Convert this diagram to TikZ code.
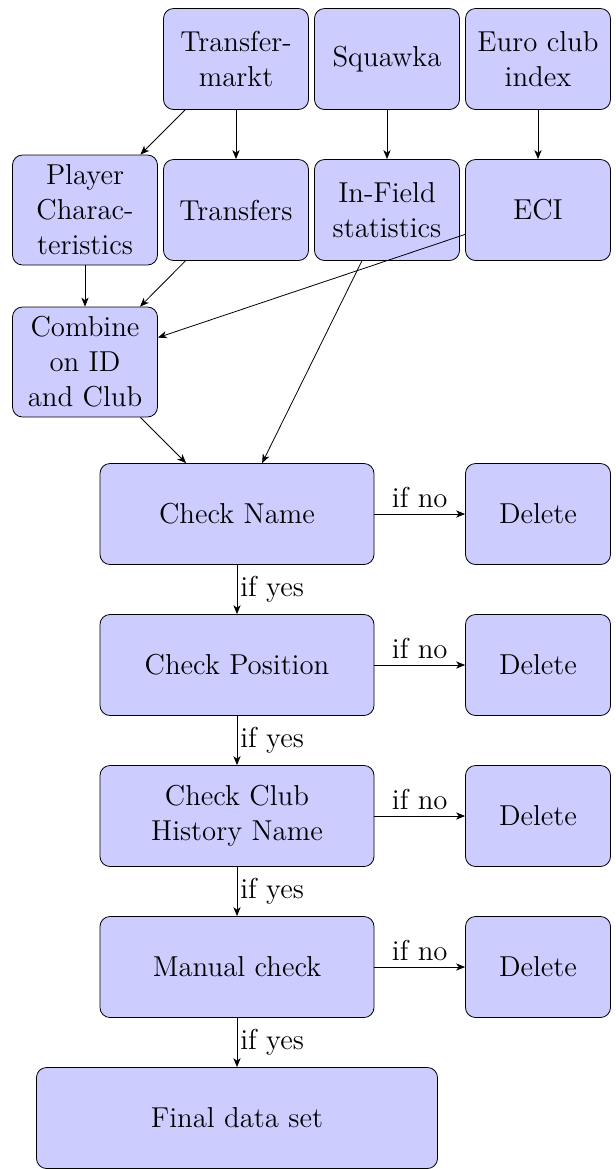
\documentclass[tikz,border=0pt]{standalone}
\usetikzlibrary{arrows.meta}
\begin{document}
\begin{tikzpicture}[x=0.5pt,y=-0.5pt,
  box/.style={draw, fill=blue!20, rounded corners=5pt, align=center,
    minimum width=72.5pt, minimum height=50.5pt, inner sep=2pt,
    font=\fontsize{14.4}{17.5}\selectfont},
  tall/.style={minimum height=55pt},
  wide/.style={minimum width=137pt},
  widest/.style={minimum width=200.5pt},
  arr/.style={-{Stealth[length=4.5pt,width=3.6pt,inset=1.3pt]}},
  lbl/.style={font=\fontsize{14.4}{17.5}\selectfont, inner sep=1.5pt},
  nolbl/.style={lbl, above, inner sep=3pt}]
\useasboundingbox (0,0) rectangle (616,1169);
% top row
\node[box] (tm) at (236,59) {Transfer-\\markt};
\node[box] (sq) at (387,59) {Squawka};
\node[box] (eu) at (538,59) {Euro club\\index};
% second row
\node[box,tall] (pc) at (85,210) {Player\\Charac-\\teristics};
\node[box] (tr) at (236,210) {Transfers};
\node[box] (inf) at (387,210) {In-Field\\statistics};
\node[box] (eci) at (538,210) {ECI};
% combine
\node[box,tall] (cb) at (85,362) {Combine\\on ID\\and Club};
% checks
\node[box,wide] (cn) at (237,514) {Check Name};
\node[box,wide] (cp) at (237,665) {Check Position};
\node[box,wide] (cc) at (237,816) {Check Club\\History Name};
\node[box,wide] (mc) at (237,967) {Manual check};
\node[box,widest] (fd) at (237,1118) {Final data set};
% deletes
\node[box] (d1) at (538,514) {Delete};
\node[box] (d2) at (538,665) {Delete};
\node[box] (d3) at (538,816) {Delete};
\node[box] (d4) at (538,967) {Delete};
% connectors
\draw[arr] (tm) -- (pc);
\draw[arr] (tm) -- (tr);
\draw[arr] (sq) -- (inf);
\draw[arr] (eu) -- (eci);
\draw[arr] (pc) -- (cb);
\draw[arr] (tr) -- (cb);
\draw[arr] (eci) -- (cb);
\draw[arr] (inf) -- (cn);
\draw[arr] (cb) -- (cn);
\draw[arr] (cn) -- node[nolbl] {if no} (d1);
\draw[arr] (cp) -- node[nolbl] {if no} (d2);
\draw[arr] (cc) -- node[nolbl] {if no} (d3);
\draw[arr] (mc) -- node[nolbl] {if no} (d4);
\draw[arr] (cn) -- node[lbl,right] {if yes} (cp);
\draw[arr] (cp) -- node[lbl,right] {if yes} (cc);
\draw[arr] (cc) -- node[lbl,right] {if yes} (mc);
\draw[arr] (mc) -- node[lbl,right] {if yes} (fd);
\end{tikzpicture}
\end{document}
